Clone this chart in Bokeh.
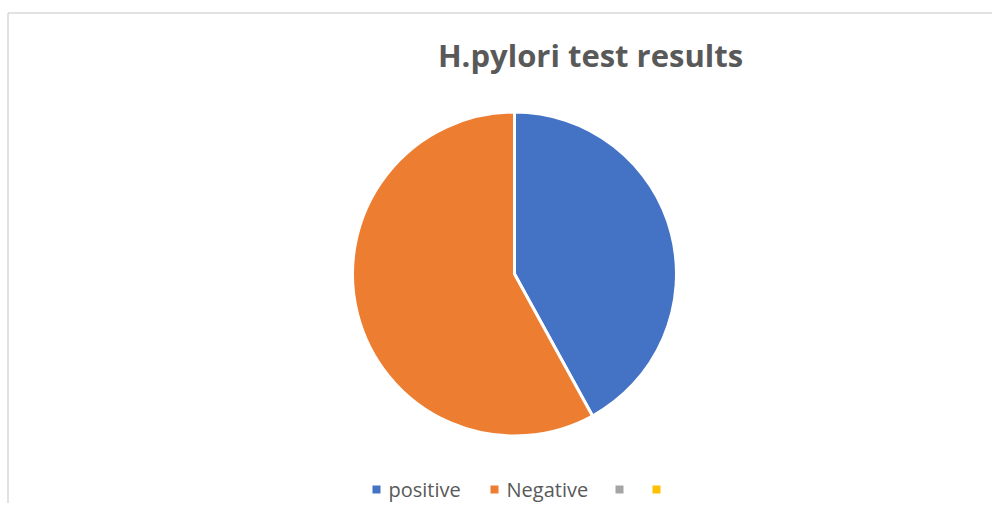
import math
from bokeh.plotting import figure
from bokeh.models import Range1d, ColumnDataSource
from bokeh.core.properties import value
from bokeh.embed import file_html
from bokeh.resources import INLINE

# ---- data ----
title_text = "H.pylori test results"
categories = ["positive", "Negative", "", ""]
values = [42, 58, 0, 0]
colors = ["#4472C4", "#ED7D31", "#A5A5A5", "#FFC000"]

# ---- figure: data coords = picture pixels (data y = 519 - picture y) ----
W, H = 992, 503
p = figure(width=W, height=H, output_backend="svg", toolbar_location=None,
           x_axis_type=None, y_axis_type=None,
           x_range=Range1d(0, W), y_range=Range1d(519 - H, 519),
           min_border=0, min_border_left=0, min_border_right=0,
           min_border_top=0, min_border_bottom=0)
p.outline_line_color = None
p.grid.visible = False
p.background_fill_color = "white"
p.border_fill_color = "white"

def Y(py):
    return 519 - py

# chart border (left and top visible in reference)
p.segment(x0=[7.5, 7.5], y0=[Y(12.5), Y(12.5)], x1=[7.5, 1008], y1=[Y(519), Y(12.5)],
          line_color="#D9D9D9", line_width=1.5)

# title
p.text(x=[590], y=[Y(54)], text=[title_text], text_font=value("Open Sans"),
       text_font_style="bold", text_font_size="31px", text_color="#595959",
       text_align="center", text_baseline="alphabetic")

# pie
total = sum(values)
starts, ends = [], []
acc = 0.0
for v in values:
    a0 = math.pi / 2 - 2 * math.pi * acc / total
    acc += v
    a1 = math.pi / 2 - 2 * math.pi * acc / total
    starts.append(a0)
    ends.append(a1)
src = ColumnDataSource(dict(start=starts[:2], end=ends[:2], color=colors[:2]))
p.wedge(x=514, y=Y(273.5), radius=162, start_angle="start", end_angle="end",
        direction="clock", fill_color="color", line_color="white", line_width=3,
        source=src)

# legend
mx = [376, 494, 619, 656]
p.scatter(x=mx, y=[Y(489)] * 4, marker="square", size=8, fill_color=colors,
          line_color=None)
p.text(x=[m + 12 for m in mx], y=[Y(489)] * 4, text=categories,
       text_font=value("Open Sans"), text_font_size="20px", text_color="#595959",
       text_align="left", text_baseline="middle")

open("out.html", "w").write(file_html(p, INLINE))
